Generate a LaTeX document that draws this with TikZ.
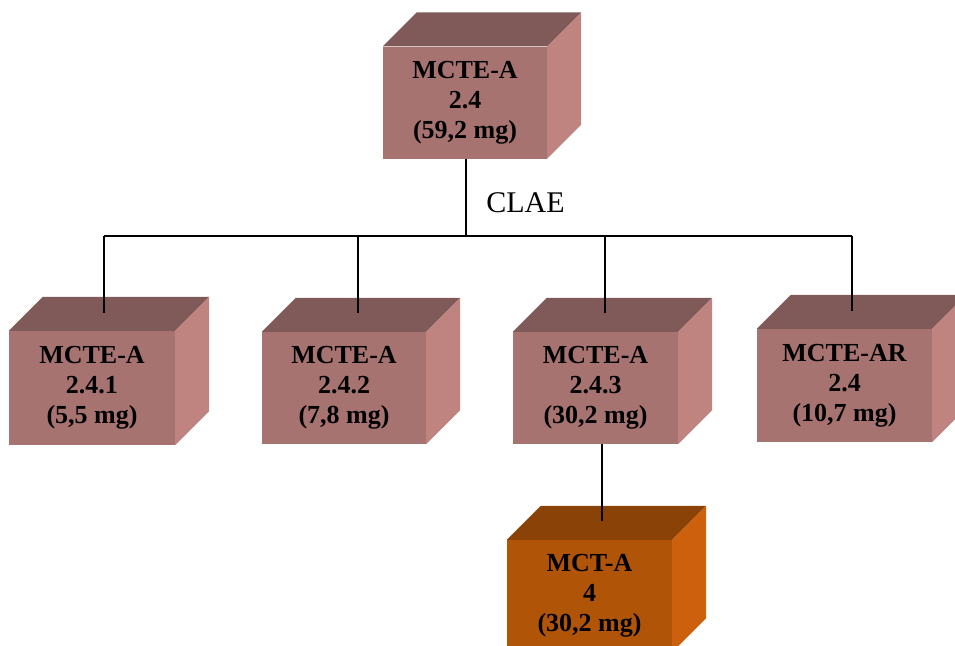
\documentclass[tikz,border=0pt]{standalone}
\usepackage{fontspec}
\setmainfont{Liberation Serif}
\definecolor{mfront}{RGB}{166,115,113}
\definecolor{mtop}{RGB}{128,90,89}
\definecolor{mside}{RGB}{192,132,128}
\definecolor{ofront}{RGB}{176,84,8}
\definecolor{otop}{RGB}{139,66,6}
\definecolor{oside}{RGB}{204,96,12}
\tikzset{
  cube/.style={inner sep=0pt, align=center, minimum width=164pt, minimum height=112pt,
    font=\fontsize{26}{30}\selectfont\bfseries},
  link/.style={draw=black, line width=1.3pt},
  label/.style={font=\fontsize{30}{34}\selectfont, anchor=base}
}
% top and right faces of a box, depth 34pt
\newcommand\cubefaces[3]{%
  \fill[#2] (#1.north west) -- ([shift={(34pt,34pt)}]#1.north west)
    -- ([shift={(34pt,34pt)}]#1.north east) -- (#1.north east) -- cycle;
  \fill[#3] (#1.north east) -- ([shift={(34pt,34pt)}]#1.north east)
    -- ([shift={(34pt,34pt)}]#1.south east) -- (#1.south east) -- cycle;
}
\begin{document}
\begin{tikzpicture}[x=1pt,y=-1pt]
\useasboundingbox (0,0) rectangle (955,645);

% boxes
\node[cube, fill=mfront] (top) at (465,102.5) {MCTE-A\\2.4\\(59,2 mg)};
\node[cube, fill=mfront, minimum width=166pt, minimum height=114pt] (b1) at (92,388) {MCTE-A\\2.4.1\\(5,5 mg)};
\node[cube, fill=mfront] (b2) at (344,388) {MCTE-A\\2.4.2\\(7,8 mg)};
\node[cube, fill=mfront, minimum width=165pt] (b3) at (595.5,388) {MCTE-A\\2.4.3\\(30,2 mg)};
\node[cube, fill=mfront, minimum width=175pt, minimum height=113pt] (b4) at (844.5,385.5) {MCTE-AR\\2.4\\(10,7 mg)};
\node[cube, fill=ofront, minimum width=165pt] (b5) at (589.5,596) {MCT-A\\4\\(30,2 mg)};

\cubefaces{top}{mtop}{mside}
\cubefaces{b1}{mtop}{mside}
\cubefaces{b2}{mtop}{mside}
\cubefaces{b3}{mtop}{mside}
\cubefaces{b4}{mtop}{mside}
\cubefaces{b5}{otop}{oside}

% connection points
\coordinate (jtop) at (466,236);
\coordinate (j1) at (104,236);
\coordinate (j2) at (358,236);
\coordinate (j3) at (605,236);
\coordinate (j4) at (852,236);
\coordinate (t1) at (104,313);
\coordinate (t2) at (358,313);
\coordinate (t3) at (605,313);
\coordinate (t4) at (852,311);
\coordinate (t5) at (602,521);

% connectors
\draw[link] (top.south -| jtop) -- (jtop);
\draw[link] (j1) -- (j4);
\draw[link] (j1) -- (t1);
\draw[link] (j2) -- (t2);
\draw[link] (j3) -- (t3);
\draw[link] (j4) -- (t4);
\draw[link] (b3.south -| t5) -- (t5);

\node[label] (clae) at (525.5,212) {CLAE};
\end{tikzpicture}
\end{document}
